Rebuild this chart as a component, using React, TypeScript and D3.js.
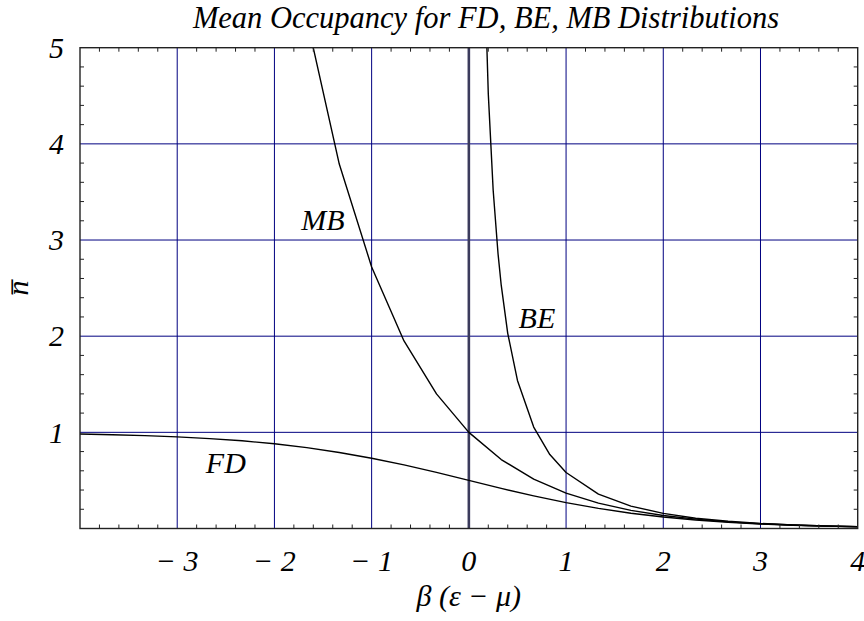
import React, { useRef, useEffect } from 'react';
import * as d3 from 'd3';

// sample points
const fdX = [-4, -3.667, -3.333, -3, -2.667, -2.333, -2, -1.667, -1.333, -1, -0.667, -0.333, 0, 0.333, 0.667, 1, 1.333, 1.667, 2, 2.333, 2.667, 3, 3.333, 3.667, 4];
const fdValues = [0.982, 0.975, 0.966, 0.953, 0.935, 0.912, 0.881, 0.841, 0.791, 0.731, 0.661, 0.583, 0.5, 0.417, 0.339, 0.269, 0.209, 0.159, 0.119, 0.088, 0.065, 0.047, 0.034, 0.025, 0.018];

const mbX = [-2, -1.667, -1.333, -1, -0.667, -0.333, 0, 0.333, 0.667, 1, 1.333, 1.667, 2, 2.333, 2.667, 3, 3.333, 3.667, 4];
const mbValues = [7.39, 5.3, 3.79, 2.72, 1.95, 1.4, 1, 0.717, 0.513, 0.368, 0.264, 0.189, 0.135, 0.097, 0.069, 0.05, 0.036, 0.026, 0.018];

const beX = [0.15, 0.2, 0.25, 0.3, 0.333, 0.4, 0.5, 0.667, 0.833, 1, 1.333, 1.667, 2, 2.333, 2.667, 3, 3.333, 3.667, 4];
const beValues = [6.18, 4.52, 3.52, 2.86, 2.53, 2.03, 1.54, 1.055, 0.769, 0.582, 0.358, 0.233, 0.157, 0.107, 0.075, 0.052, 0.037, 0.026, 0.019];

const xTicks = [-3, -2, -1, 0, 1, 2, 3, 4];
const xTickLabels = ['\u2212 3', '\u2212 2', '\u2212 1', '0', '1', '2', '3', '4'];
const yTicks = [1, 2, 3, 4, 5];
const yTickLabels = ['1', '2', '3', '4', '5'];

const curveLabels = [
  { name: 'FD', x: -2.5, y: 0.58 },
  { name: 'MB', x: -1.5, y: 3.1 },
  { name: 'BE', x: 0.7, y: 2.08 },
];

const title = 'Mean Occupancy for FD, BE, MB Distributions';

function App() {
  const chartRef = useRef<HTMLDivElement>(null);

  useEffect(() => {
    document.body.style.margin = '0';
    const width = 864;
    const height = 621;
    const left = 80, right = 857.7, top = 47.7, bottom = 528.5;
    const font = 'Liberation Serif, Times New Roman, serif';

    const x = d3.scaleLinear().domain([-4, 4]).range([left, right]);
    const y = d3.scaleLinear().domain([0, 5]).range([bottom, top]);

    const svg = d3
      .select(chartRef.current)
      .append('svg')
      .attr('width', width)
      .attr('height', height)
      .style('display', 'block');

    svg.append('rect').attr('width', width).attr('height', height).attr('fill', 'white');

    svg.append('defs').append('clipPath').attr('id', 'plot-clip')
      .append('rect')
      .attr('x', left).attr('y', top)
      .attr('width', right - left).attr('height', bottom - top);

    // grid lines
    const gridColor = '#000080';
    svg.selectAll('.vgrid')
      .data([-3, -2, -1, 1, 2, 3])
      .enter()
      .append('line')
      .attr('x1', (d) => x(d)).attr('x2', (d) => x(d))
      .attr('y1', top).attr('y2', bottom)
      .attr('stroke', gridColor)
      .attr('stroke-width', 1);

    svg.selectAll('.hgrid')
      .data([1, 2, 3, 4])
      .enter()
      .append('line')
      .attr('x1', left).attr('x2', right)
      .attr('y1', (d) => y(d)).attr('y2', (d) => y(d))
      .attr('stroke', gridColor)
      .attr('stroke-width', 1);

    // axis at zero
    svg.append('line')
      .attr('x1', x(0)).attr('x2', x(0))
      .attr('y1', top).attr('y2', bottom)
      .attr('stroke', '#3b3b5c')
      .attr('stroke-width', 2.6);

    // curves
    const line = d3.line<[number, number]>()
      .x((d) => x(d[0]))
      .y((d) => y(d[1]));

    const series = [
      fdX.map((v, i) => [v, fdValues[i]] as [number, number]),
      mbX.map((v, i) => [v, mbValues[i]] as [number, number]),
      beX.map((v, i) => [v, beValues[i]] as [number, number]),
    ];

    svg.append('g')
      .attr('clip-path', 'url(#plot-clip)')
      .selectAll('path')
      .data(series)
      .enter()
      .append('path')
      .attr('d', (d) => line(d))
      .attr('fill', 'none')
      .attr('stroke', 'black')
      .attr('stroke-width', 1.4)
      .attr('stroke-linejoin', 'round');

    // frame
    svg.append('rect')
      .attr('x', left).attr('y', top)
      .attr('width', right - left).attr('height', bottom - top)
      .attr('fill', 'none')
      .attr('stroke', '#222')
      .attr('stroke-width', 1.4);

    // minor ticks (every 0.2), inward
    const xMinor = d3.range(-4, 4.001, 0.2).filter((v) => Math.abs(v - Math.round(v)) > 0.01);
    const yMinor = d3.range(0, 5.001, 0.2).filter((v) => Math.abs(v - Math.round(v)) > 0.01);
    const tick = 4;

    svg.selectAll('.xminor-b')
      .data(xMinor).enter().append('line')
      .attr('x1', (d) => x(d)).attr('x2', (d) => x(d))
      .attr('y1', bottom).attr('y2', bottom - tick)
      .attr('stroke', '#222');
    svg.selectAll('.xminor-t')
      .data(xMinor).enter().append('line')
      .attr('x1', (d) => x(d)).attr('x2', (d) => x(d))
      .attr('y1', top).attr('y2', top + tick)
      .attr('stroke', '#222');
    svg.selectAll('.yminor-l')
      .data(yMinor).enter().append('line')
      .attr('x1', left).attr('x2', left + tick)
      .attr('y1', (d) => y(d)).attr('y2', (d) => y(d))
      .attr('stroke', '#222');
    svg.selectAll('.yminor-r')
      .data(yMinor).enter().append('line')
      .attr('x1', right).attr('x2', right - tick)
      .attr('y1', (d) => y(d)).attr('y2', (d) => y(d))
      .attr('stroke', '#222');

    const italic = (sel: any, size: number) =>
      sel.style('font-family', font).style('font-style', 'italic').style('font-size', `${size}px`);

    // tick labels
    italic(svg.selectAll('.xlabel')
      .data(xTicks).enter().append('text')
      .attr('x', (d) => x(d))
      .attr('y', 571)
      .attr('text-anchor', 'middle'), 30)
      .text((d, i) => xTickLabels[i]);

    italic(svg.selectAll('.ylabel')
      .data(yTicks).enter().append('text')
      .attr('x', 64)
      .attr('y', (d) => y(d))
      .attr('dy', '0.34em')
      .attr('text-anchor', 'end'), 30)
      .text((d, i) => yTickLabels[i]);

    // curve labels
    italic(svg.selectAll('.curve-label')
      .data(curveLabels).enter().append('text')
      .attr('x', (d) => x(d.x))
      .attr('y', (d) => y(d.y))
      .attr('text-anchor', 'middle'), 30)
      .text((d) => d.name);

    // title
    italic(svg.append('text')
      .attr('x', 486)
      .attr('y', 28)
      .attr('text-anchor', 'middle'), 30.5)
      .text(title);

    // x axis title
    italic(svg.append('text')
      .attr('x', x(0))
      .attr('y', 606)
      .attr('text-anchor', 'middle'), 30)
      .text('\u03b2 (\u03b5 \u2212 \u03bc)');

    // y axis title
    italic(svg.append('text')
      .attr('transform', `translate(28, ${y(2.5)}) rotate(-90)`)
      .attr('text-anchor', 'middle'), 30)
      .text('n\u0305');

    return () => {
      svg.remove();
    };
  }, []);

  return <div ref={chartRef}></div>;
}

export default App;
